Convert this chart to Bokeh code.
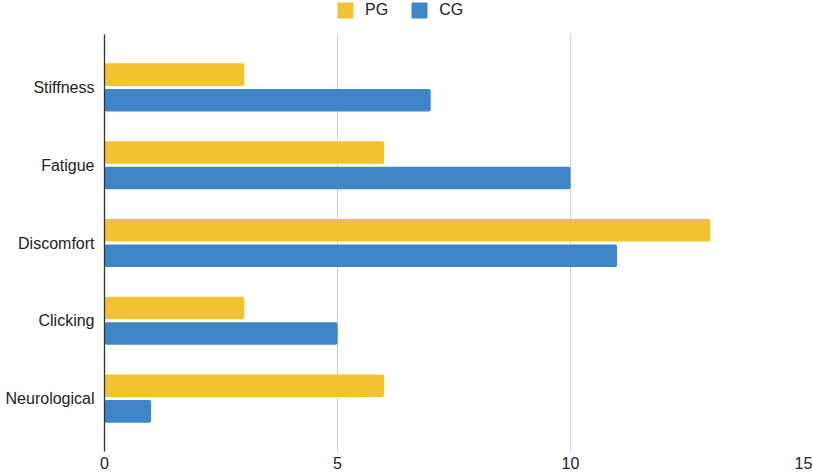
from bokeh.plotting import figure
from bokeh.layouts import column
from bokeh.models import ColumnDataSource, Range1d, FactorRange, Legend, LegendItem, FixedTicker
from bokeh.transform import dodge
from bokeh.embed import file_html
from bokeh.resources import INLINE

categories = ["Stiffness", "Fatigue", "Discomfort", "Clicking", "Neurological"]
pg_values = [3, 6, 13, 3, 6]
cg_values = [7, 10, 11, 5, 1]
x_ticks = [0, 5, 10, 15]
series_names = ["PG", "CG"]

PG_COLOR = "#F1C232"
CG_COLOR = "#3D85C6"
FONT = "Liberation Sans"
TEXT_COLOR = "#222222"

source = ColumnDataSource(data=dict(cat=categories, pg=pg_values, cg=cg_values))

# main chart
p = figure(
    width=813, height=441,
    y_range=FactorRange(factors=list(reversed(categories)), range_padding=0.072),
    x_range=Range1d(0, 15),
    output_backend="svg", toolbar_location=None,
    min_border_left=104, min_border_right=10, min_border_top=0, min_border_bottom=24,
)
p.outline_line_color = None
p.background_fill_color = "white"
p.border_fill_color = "white"

r_pg = p.hbar(y=dodge("cat", 0.164, range=p.y_range), right="pg", left=0, height=0.29,
              source=source, fill_color=PG_COLOR, line_color=None, border_radius=2)
r_cg = p.hbar(y=dodge("cat", -0.164, range=p.y_range), right="cg", left=0, height=0.29,
              source=source, fill_color=CG_COLOR, line_color=None, border_radius=2)

p.xaxis.ticker = FixedTicker(ticks=x_ticks)
p.xaxis.axis_line_color = None
p.xaxis.major_tick_line_color = None
p.xaxis.minor_tick_line_color = None
p.xaxis.major_tick_out = 0
p.xaxis.major_tick_in = 0
p.xaxis.minor_tick_out = 0
p.xaxis.major_label_standoff = 5
p.xaxis.major_label_text_font = FONT
p.xaxis.major_label_text_font_size = "16px"
p.xaxis.major_label_text_color = TEXT_COLOR

p.yaxis.axis_line_color = "#333333"
p.yaxis.axis_line_width = 1.3
p.yaxis.major_tick_line_color = None
p.yaxis.minor_tick_line_color = None
p.yaxis.major_tick_out = 0
p.yaxis.major_tick_in = 0
p.yaxis.minor_tick_out = 0
p.yaxis.major_label_standoff = 10
p.yaxis.major_label_text_font = FONT
p.yaxis.major_label_text_font_size = "16px"
p.yaxis.major_label_text_color = TEXT_COLOR

p.xgrid.grid_line_color = "#cccccc"
p.xgrid.grid_line_width = 1
p.ygrid.grid_line_color = None

# legend strip on top (its frame is aligned with the main chart's frame by the column)
lg = figure(
    width=813, height=34, x_range=Range1d(0, 1), y_range=Range1d(0, 1),
    x_axis_type=None, y_axis_type=None,
    output_backend="svg", toolbar_location=None,
    min_border_left=0, min_border_right=0, min_border_top=0, min_border_bottom=0,
)
lg.outline_line_color = None
lg.grid.visible = False
l_pg = lg.hbar(y="pg", right="pg", left=0, height=0.1, source=source,
               fill_color=PG_COLOR, line_color=None, border_radius=2, visible=False)
l_cg = lg.hbar(y="cg", right="cg", left=0, height=0.1, source=source,
               fill_color=CG_COLOR, line_color=None, border_radius=2, visible=False)

legend = Legend(
    items=[LegendItem(label=series_names[0], renderers=[l_pg]),
           LegendItem(label=series_names[1], renderers=[l_cg])],
    orientation="horizontal", location=(231, 14),
    glyph_width=20, glyph_height=20, label_standoff=10, spacing=21,
    label_text_font=FONT, label_text_font_size="16px", label_text_color=TEXT_COLOR,
    border_line_color=None, background_fill_alpha=0, padding=0, margin=0,
    inactive_fill_alpha=0,
)
lg.add_layout(legend, "center")

layout = column(lg, p, spacing=0)
open("out.html", "w").write(file_html(layout, INLINE))
